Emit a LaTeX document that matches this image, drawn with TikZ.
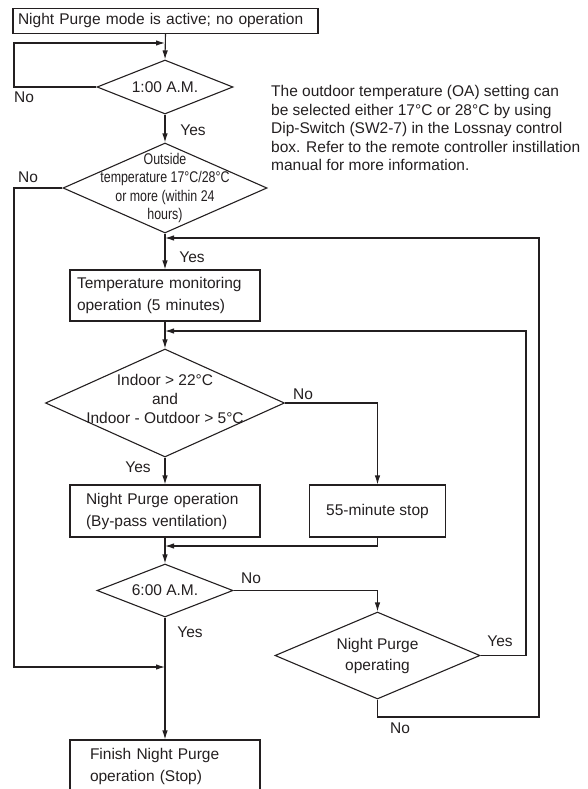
\documentclass[tikz,border=0pt]{standalone}
\usepackage{fontspec}
\setmainfont{Liberation Sans}
\newfontfamily\condfont[FakeStretch=0.8]{Liberation Sans}
\usetikzlibrary{arrows.meta,shapes.geometric}
\definecolor{ink}{HTML}{231F20}
\begin{document}
\begin{tikzpicture}[x=1pt,y=-1pt,
  every node/.style={font=\fontsize{15.5}{18.6}\selectfont, text=ink},
  conn/.style={draw=ink, line width=1.1pt, -{Latex[length=9pt,width=5.5pt]}},
  pbox/.style={draw=ink, line width=1.1pt, rectangle, align=left, inner ysep=0pt, font=\fontsize{15.5}{22}\selectfont},
  dec/.style={draw=ink, line width=1.1pt, diamond, inner sep=0pt},
  lab/.style={anchor=base, inner sep=0pt}]
\useasboundingbox (0,0) rectangle (588,789);

% nodes
\node[pbox, text width=295pt, inner xsep=5pt, minimum height=25pt] (start) at (165.5,20.8) {Night Purge mode is active; no operation};
\node[dec, minimum width=136pt, minimum height=54pt, label={center:{1:00 A.M.}}] (d1) at (165,87) {};
\node[dec, minimum width=204pt, minimum height=90pt,
  label={[align=center, font=\condfont\fontsize{15.5}{18.6}\selectfont]center:{Outside\\temperature 17°C/28°C\\or more (within 24\\hours)}}] (d2) at (165,188) {};
\node[pbox, text width=176pt, inner xsep=7pt, minimum height=51pt] (b2) at (165,295.5) {Temperature monitoring\\operation (5 minutes)};
\node[dec, minimum width=239pt, minimum height=108pt,
  label={[align=center, yshift=4pt]center:{Indoor > 22°C\\and\\Indoor - Outdoor > 5°C}}] (d3) at (165,403) {};
\node[pbox, text width=158pt, inner xsep=16pt, minimum height=52pt] (b3) at (165,511) {Night Purge operation\\(By-pass ventilation)};
\node[pbox, align=center, inner sep=0pt, minimum width=136pt, minimum height=52pt] (b4) at (377.5,511) {55-minute stop};
\node[dec, minimum width=136pt, minimum height=53pt, label={center:{6:00 A.M.}}] (d4) at (165,590.5) {};
\node[dec, minimum width=205pt, minimum height=87pt,
  label={[align=center, font=\fontsize{15.5}{21}\selectfont]center:{Night Purge\\operating}}] (d5) at (377.5,655.5) {};
\node[pbox, text width=150pt, inner xsep=20pt, minimum height=52pt] (fin) at (165,766) {Finish Night Purge\\operation (Stop)};

\node[anchor=north west, align=left, inner sep=0pt] (note) at (271,85)
  {The outdoor temperature (OA) setting can\\be selected either 17°C or 28°C by using\\Dip-Switch (SW2-7) in the Lossnay control\\box. Refer to the remote controller instillation\\manual for more information.};

% coordinates
\coordinate (l1) at (14,43);
\coordinate (l2) at (14,667);
\coordinate (l3) at (377.5,546);
\coordinate (r1) at (526,331);
\coordinate (r2) at (539,717);
\coordinate (r3) at (539,238);

% connectors
\draw[conn] (start.south) -- (d1.north);
\draw[conn] (d1.west) -| (l1) -- (l1 -| d1.north);
\draw[conn] (d1.south) -- (d2.north);
\draw[conn] (d2.south) -- (b2.north);
\draw[conn] (d2.west) -| (l2) -- (l2 -| fin.north);
\draw[conn] (b2.south) -- (d3.north);
\draw[conn] (d3.south) -- (b3.north);
\draw[conn] (d3.east) -| (b4.north);
\draw[conn] (b3.south) -- (d4.north);
\draw[conn] (b4.south) -- (l3) -- (l3 -| d4.north);
\draw[conn] (d4.east) -| (d5.north);
\draw[conn] (d4.south) -- (fin.north);
\draw[conn] (d5.east) -| (r1) -- (r1 -| d3.north);
\draw[conn] (d5.south) |- (r2) -- (r3) -- (r3 -| b2.north);

% branch labels
\node[lab] (no1) at (24,102.5) {No};
\node[lab] (yes1) at (193,135.5) {Yes};
\node[lab] (no2) at (28,182.5) {No};
\node[lab] (yes2) at (192,262.5) {Yes};
\node[lab] (no3) at (303,399.5) {No};
\node[lab] (yes3) at (138,472.5) {Yes};
\node[lab] (no4) at (251,583.5) {No};
\node[lab] (yes4) at (190,637.5) {Yes};
\node[lab] (yes5) at (500,646.5) {Yes};
\node[lab] (no5) at (400,733.5) {No};
\end{tikzpicture}
\end{document}
